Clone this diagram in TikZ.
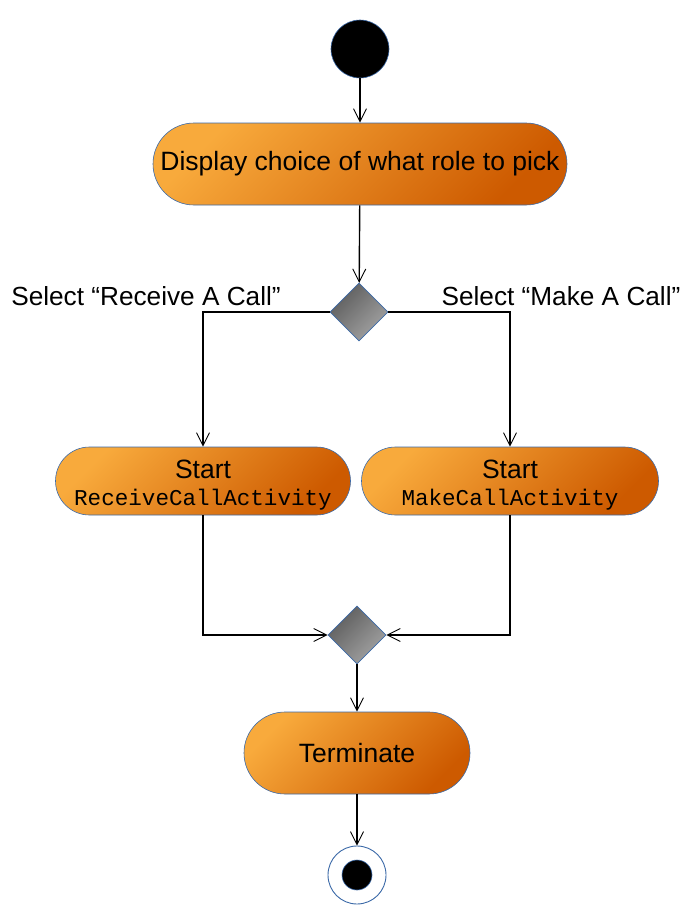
\documentclass[tikz,border=0pt]{standalone}
\usepackage{fontspec}
\setmainfont{Liberation Sans}
\setmonofont{Liberation Mono}
\usetikzlibrary{shapes.geometric,arrows.meta}

\definecolor{orangelight}{HTML}{F8AA3C}
\definecolor{orangedark}{HTML}{CD5A00}
\definecolor{umlblue}{HTML}{3C6AA8}
\definecolor{graydark}{HTML}{5C5C5C}
\definecolor{graylight}{HTML}{A4A4A4}

\begin{document}
\begin{tikzpicture}[
        x=1pt, y=-1pt,
        activity/.style={rectangle, draw=umlblue, line width=0.6pt, top color=orangelight, bottom color=orangedark, shading angle=45, text centered, align=center, font=\fontsize{26.5}{30}\selectfont, inner sep=0pt},
        decision/.style={diamond, shape aspect=1, draw=umlblue, line width=0.6pt, top color=graydark, bottom color=graylight, shading angle=45, minimum size=58pt, inner sep=0pt},
        guard/.style={font=\fontsize{26.2}{30}\selectfont, inner sep=0pt},
        flow/.style={draw, line width=1.4pt, -{Straight Barb[length=13pt, width=13pt, line width=0.9pt]}}
    ]
        \useasboundingbox (0,0) rectangle (696,924);

        % Initial and final nodes
        \node[circle, draw=umlblue, fill=black, line width=0.6pt, minimum size=58pt, inner sep=0pt] (init) at (360, 49) {};
        \node[circle, draw=umlblue, fill=white, line width=0.9pt, minimum size=58pt, inner sep=0pt] (final) at (357, 875) {};
        \node[circle, draw=umlblue, fill=black, line width=0.6pt, minimum size=30pt, inner sep=0pt] (finaldot) at (357, 875) {};

        % Activities
        \node[activity, minimum width=414pt, minimum height=82pt, rounded corners=41pt] (display) at (360, 164) {Display choice of what role to pick};
        \node[activity, minimum width=295pt, minimum height=68pt, rounded corners=34pt] (receive) at (203, 481) {\rule{0pt}{26pt}Start\\[-3pt]{\fontsize{22.6}{30}\selectfont\texttt{ReceiveCallActivity}}};
        \node[activity, minimum width=297pt, minimum height=68pt, rounded corners=34pt] (make) at (510, 481) {\rule{0pt}{26pt}Start\\[-3pt]{\fontsize{22.6}{30}\selectfont\texttt{MakeCallActivity}}};
        \node[activity, minimum width=226pt, minimum height=82pt, rounded corners=41pt] (terminate) at (357, 753) {Terminate};

        % Decision and merge
        \node[decision] (choice) at (359, 312) {};
        \node[decision] (merge) at (357, 635) {};

        % Guards
        \node[guard] (guardrecv) at (146, 296) {Select “Receive A Call”};
        \node[guard] (guardmake) at (561, 296) {Select “Make A Call”};

        % Flows
        \draw[flow] (init) -- (display);
        \draw[flow] (display) -- (choice);
        \draw[flow] (choice.west) -| (receive.north);
        \draw[flow] (choice.east) -| (make.north);
        \draw[flow] (receive.south) |- (merge.west);
        \draw[flow] (make.south) |- (merge.east);
        \draw[flow] (merge) -- (terminate);
        \draw[flow] (terminate) -- (final);
    \end{tikzpicture}
\end{document}
